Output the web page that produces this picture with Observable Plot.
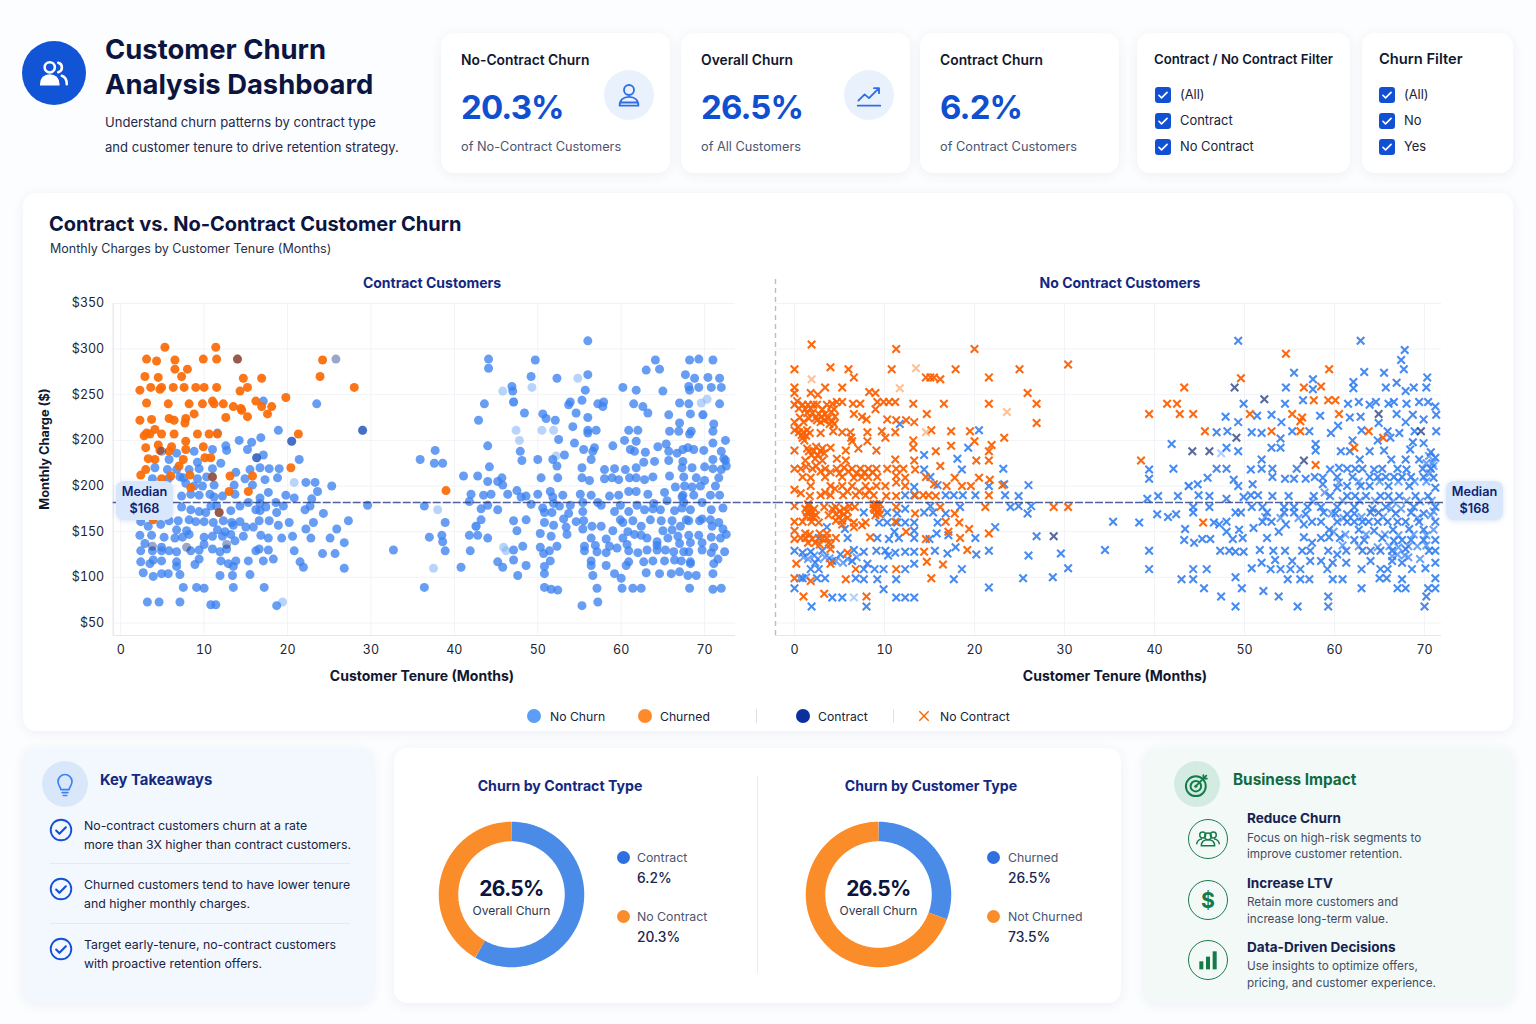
<!DOCTYPE html>
<html><head><meta charset="utf-8">
<script src="https://cdn.jsdelivr.net/npm/d3@7"></script>
<script src="https://cdn.jsdelivr.net/npm/@observablehq/plot@0.6"></script>
<style>
html,body{margin:0;padding:0;background:#fcfdfe;}
body{width:1536px;height:1024px;position:relative;overflow:hidden;font-family:Inter,"Noto Sans",sans-serif;color:#0b1540;}
.abs{position:absolute;}
.t{position:absolute;white-space:nowrap;transform:translateY(-50%);line-height:1;}
.tc{position:absolute;white-space:nowrap;transform:translate(-50%,-50%);line-height:1;}
.card{position:absolute;background:#fff;border-radius:13px;box-shadow:0 2px 12px rgba(30,60,120,.07);}
.plot{position:absolute;}
.plot svg{display:block;overflow:visible;}
.cb{position:absolute;width:16px;height:16px;background:#1150d2;border-radius:3px;}
.chip{position:absolute;width:57px;height:39px;background:#d8e7fc;border-radius:8px;color:#10226e;font-size:12.7px;font-weight:600;text-align:center;line-height:17px;padding-top:2px;box-sizing:border-box;box-shadow:0 1px 5px rgba(60,110,200,.2);}
</style></head><body>
<div id="root"></div>
<script>
// ---- scatter values [tenure months, monthly charge on the chart's linear axis] ----
const contractChurned=[[5.3,352],[11.4,352],[3.1,339],[4.3,337],[6.5,338],[9.9,339],[11.5,339],[14,339],[24.2,338],[6.5,328],[8,328],[2.9,320],[4.5,319],[7.3,320],[14.7,318],[16.9,318],[23.9,320],[2.3,305],[3.6,308],[4.7,306],[4.9,308],[6.3,308],[7.6,308],[9,308],[10,308],[11.5,308],[14.3,304],[15.2,308],[28,308],[3.1,291],[5.7,290],[8.2,290],[9.8,290],[11,293],[11.2,290],[12.3,290],[13.5,287],[14.4,285],[14.5,283],[16.2,293],[16.9,287],[18.1,287],[19.8,297],[17.6,279],[15.2,276],[12.6,275],[8.8,279],[2.3,272],[3.7,273],[5.8,274],[6.4,272],[7.8,274],[7.7,269],[3.1,258],[4.1,262],[3.5,257],[2.8,255],[4.9,257],[6.4,257],[9.2,257],[10.6,257],[11.6,257],[21.3,257],[3,242],[4.5,245],[6.1,243],[7.8,249],[7.8,240],[9.9,243],[5.8,238],[4.7,239],[3.3,230],[4.1,229],[7.5,229],[10.1,231],[10.8,231],[3,218],[2.4,212],[4.9,208],[6,211],[7,222],[8.3,212],[13.1,211],[15.8,211],[20.4,220],[11,210],[8.4,198],[13,194],[15.3,194],[3.9,163],[11.8,171],[39,195]];
const contractNoChurn=[[17.1,293],[23.5,290],[29,261],[18.9,261],[16.8,253],[14.2,250],[15.7,248],[11.6,258],[12.6,244],[11,240],[12.7,239],[15.2,240],[20.5,249],[17.1,234],[16.3,231],[21.4,229],[6.7,236],[8.8,238],[5.8,229],[9.2,226],[12,225],[4.1,220],[5.6,218],[6.7,218],[8.2,218],[9.4,219],[11,219],[13.8,215],[15.5,218],[16.7,220],[17.8,219],[19,219],[3.8,208],[5.7,208],[7.1,210],[7.5,209],[9.2,208],[10.3,210],[7.8,203],[14.9,208],[17.3,207],[18.8,209],[22.2,204],[23.3,204],[25.3,200],[8.8,200],[9.8,200],[11.2,201],[13.6,201],[15.8,201],[7.3,189],[8.4,191],[9.4,190],[10.7,191],[11.2,188],[12.2,189],[13.7,191],[16.7,187],[17.7,193],[19.8,190],[20.8,187],[22.9,186],[23.6,194],[14.3,178],[15.3,182],[16.7,181],[18.6,182],[17.4,177],[19.5,178],[22.7,178],[29.6,179],[7.3,177],[8.4,174],[9.4,172],[10.2,171],[10.8,178],[11.5,178],[13.2,173],[16.2,174],[16.7,173],[18.7,171],[22.1,174],[24.3,170],[2.4,161],[3.3,156],[4.8,158],[5.8,162],[6.9,162],[8.2,163],[9,161],[10,161],[11.1,160],[12.3,162],[13.3,160],[14.3,161],[16.6,162],[17.8,162],[18.9,157],[20.2,160],[23.1,160],[27.3,162],[6.7,152],[7.9,151],[11.6,152],[12.5,150],[13.5,157],[15,155],[15.9,155],[25.9,153],[22.2,153],[2.3,146],[3.7,146],[5.2,144],[6.5,143],[7.4,144],[8.2,147],[10,144],[11,145],[12.2,145],[13.2,147],[13.7,140],[14.7,145],[16.8,146],[17.7,143],[19.3,143],[20.6,145],[22.8,143],[25.1,143],[2.9,137],[26.8,138],[4.9,133],[2.4,129],[3.8,129],[4.9,129],[5.8,129],[6.7,128],[8.4,129],[9.4,130],[10,136],[11,131],[11.9,128],[12.7,131],[16.2,129],[16.6,131],[17.7,130],[20.8,129],[24.2,126],[25.7,126],[32.7,130],[2.4,117],[3.5,115],[3.9,119],[4.9,118],[6.7,117],[6.7,112],[8.9,114],[9.4,120],[12,118],[12.9,115],[13.5,112],[13.8,118],[15.3,118],[17.1,118],[18.3,120],[21.5,117],[21.9,111],[26.8,110],[2.7,105],[3.9,101],[4.9,104],[5.7,104],[7.1,103],[11.9,102],[13.4,102],[15.5,103],[7.5,89],[9.1,89],[10,88],[13.5,89],[17.2,89],[3.2,73],[4.6,73],[7.1,73],[10.8,70],[11.4,70],[18.7,69],
[56,359],[44.1,339],[44.1,329],[49.7,338],[64.1,338],[63,327],[64.6,328],[68.2,338],[69.3,339],[71,338],[49.2,320],[52.3,318],[56,322],[67.7,322],[68.8,318],[70.4,319],[71.8,318],[46.9,309],[47,304],[55.7,305],[60.2,308],[61.8,305],[65,304],[68.1,309],[68.2,305],[69.3,308],[70.8,308],[72,308],[43.6,290],[47.1,292],[53.7,289],[53.9,292],[55.3,294],[57.2,290],[57.9,292],[57.8,287],[61.5,290],[62.6,287],[67,291],[68.1,290],[71.8,290],[42.9,272],[48.4,280],[50.6,279],[51,274],[52.1,272],[54.6,280],[56,275],[63.2,280],[65.7,278],[68.3,279],[69.8,278],[54.2,265],[56,261],[56,258],[57,261],[60.9,261],[62,261],[65.8,260],[67,269],[66.9,260],[68.2,257],[68.4,260],[71.1,268],[71,260],[52.5,251],[54.4,247],[60.4,250],[61.8,249],[72.5,250],[71,247],[44,244],[59,244],[65.4,246],[64.4,243],[61.1,240],[61.6,238],[55.5,240],[56.8,242],[56.6,238],[62.9,237],[47.9,238],[65.7,238],[66.7,236],[67.4,240],[68,242],[68.7,240],[69.9,239],[72,238],[53.2,234],[51.8,229],[50,229],[48.1,228],[56.4,229],[65.7,228],[62.7,226],[64,227],[67.4,227],[71,229],[72.3,230],[72.5,228],[35.9,229],[37.7,239],[37.6,225],[38.6,225],[44.2,221],[52.3,222],[55.3,220],[58,218],[59.2,219],[60.5,218],[61.8,220],[67.3,220],[68.5,220],[70,221],[71,219],[72,218],[72.6,222],[41.1,211],[42.8,211],[45.7,209],[45.2,205],[44,205],[45.8,201],[50.4,209],[52.4,209],[55.3,209],[56.2,206],[58,208],[58.9,209],[59.7,207],[61,209],[61.8,209],[62.8,207],[63.8,210],[65.8,211],[67.5,210],[69,209],[71.7,209],[70,206],[69.5,200],[68.5,199],[67.6,200],[66.5,199],[71.3,200],[42,191],[43.5,190],[44.4,191],[46.4,191],[47.5,195],[48,188],[48.6,189],[50,191],[51.5,194],[51.8,188],[53,190],[55.1,191],[56.4,190],[58.6,189],[59.7,190],[60.9,194],[61.8,194],[63.2,191],[65.2,193],[67.4,190],[68.7,190],[67.3,188],[70.7,190],[71.8,190],[41.8,183],[44,179],[49.2,180],[36.4,178],[43.2,175],[45.2,174],[50.6,176],[51.9,181],[52.6,178],[53.9,179],[55.4,182],[57.2,182],[57.6,179],[59.9,179],[61.9,179],[63.9,181],[65.5,184],[67.5,182],[69.7,182],[72.2,176],[70.8,174],[62.8,174],[63.8,175],[64.7,174],[59.2,172],[60.9,172],[66.4,173],[67.3,176],[68.3,174],[50.8,171],[51.7,171],[55.4,172],[53.7,170],[43.2,163],[47.1,162],[48.6,163],[53.1,164],[54.6,161],[55.5,162],[38.9,160],[50.8,160],[59.9,163],[60.2,160],[61.4,162],[63.5,163],[64.8,162],[66.1,162],[67.8,163],[68.1,162],[69.4,162],[69.7,164],[70.7,163],[71.7,160],[42.6,156],[51.9,157],[53.4,155],[55.4,153],[56.5,156],[57.6,156],[62.4,156],[65,151],[66.1,152],[67.1,156],[70.9,156],[72.2,153],[47.5,151],[59,151],[60.8,150],[37,144],[38.5,146],[41.8,146],[42.8,146],[44,143],[50.3,148],[51.6,145],[53.5,147],[56.4,143],[58.2,142],[60.2,143],[61.6,147],[62.4,146],[63.1,143],[64.3,139],[65.6,143],[66.8,145],[68.1,146],[69.3,146],[70.8,144],[71.9,143],[72.6,147],[38.6,139],[47.1,130],[48.2,134],[50.3,133],[52.3,134],[55.6,134],[56.9,135],[58.6,134],[60.7,136],[64.3,135],[67,137],[68.3,138],[69.7,138],[71.1,133],[38.9,129],[41.9,129],[51.4,129],[50.7,126],[55.6,129],[57.1,128],[58.2,127],[59.5,132],[60.9,129],[62,127],[63.1,130],[64.3,130],[65.3,130],[66.3,128],[67.5,128],[68.1,128],[69.7,130],[70.8,127],[72.4,128],[45.2,117],[47.1,119],[48.6,113],[51.5,118],[56.4,118],[56.4,113],[58.2,113],[60.9,117],[60.6,113],[62.7,117],[63.8,118],[65.2,118],[66.4,119],[67.2,118],[68.3,117],[68.3,115],[71.1,115],[71.6,120],[40.8,111],[45.8,111],[50.8,112],[47.6,102],[50.8,104],[56.6,102],[59.2,104],[60,99],[63,105],[64.6,104],[66,104],[67,106],[68,102],[69,102],[71,104],[36.4,89],[50.8,89],[51.6,87],[52.4,86],[57.1,88],[60.1,88],[61.4,88],[62.4,88],[68.2,88],[71,87],[72,88],[57.2,73],[55.3,69]];
const contractNoChurnFaint=[[19.4,73],[20.8,204],[45.8,304],[49.3,308],[54.8,318],[45.9,133],[46.2,129],[38,174],[37.5,110],[50.5,261],[51.9,261],[70.3,295],[69.6,291],[52.2,233],[47.4,261],[47.8,250],[42.6,156],[47.1,292],[69.8,278]];
const contractOverlap=[[25.8,339],[14,339],[16.3,231],[12.7,136],[7.9,133],[3.8,134],[4.9,238],[11,210],[11.8,171],[20.5,249],[29,261]];
const noContractChurned=[[1.9,355],[11.3,350],[20,350],[0,328],[4,330],[6,328],[10.8,328],[17.9,328],[25,328],[30.4,333],[6.6,319],[14.6,319],[15.1,319],[15.5,319],[16.2,317],[21.6,319],[0,308],[3.4,308],[5.3,308],[25.9,302],[0,302],[1.8,302],[2.6,300],[8.3,303],[9,302],[0,289],[0.3,293],[0.9,289],[1.5,289],[2.1,289],[2.5,289],[3.6,289],[4.2,290],[4.7,292],[5.3,292],[6.5,290],[7.3,290],[9.2,292],[9.9,292],[10.5,292],[11.2,292],[13.2,290],[16.6,290],[21.6,290],[26.9,290],[9,284],[1.4,280],[2,280],[2.7,279],[3.4,279],[4.1,281],[6.6,279],[7.5,276],[8,273],[14.7,279],[0,270],[1,270],[2.5,272],[3.3,272],[4.2,271],[4.4,268],[10.3,273],[11.3,272],[12.4,272],[13.3,270],[26.9,269],[0,261],[0.5,259],[1,259],[0.9,253],[1.4,261],[2.9,258],[4.3,260],[5.3,259],[6.2,259],[6.3,253],[6.4,249],[8.1,259],[9.7,260],[10.1,253],[11.2,259],[15.2,261],[17.4,260],[19.5,260],[23.3,253],[8.1,249],[13.2,250],[13.2,242],[20,249],[0,239],[1.6,238],[2.1,238],[2.9,238],[4,242],[5.7,239],[7.1,241],[9.1,239],[15.7,238],[17.4,244],[21.6,238],[21.9,245],[1.2,228],[2.3,230],[3.1,228],[4.7,230],[5.7,228],[11.2,229],[13.3,228],[20.2,228],[21.6,228],[16.2,222],[0,219],[0.7,219],[2,219],[3.4,219],[4.7,219],[5.5,220],[6.4,219],[7.3,219],[8.2,219],[9.1,219],[10.3,219],[11.3,219],[12.1,219],[13.4,218],[0.9,210],[1.8,209],[3.4,210],[5.3,210],[6.6,209],[7.5,210],[8.2,210],[9.2,210],[11.3,211],[12.3,209],[11.3,204],[14.6,210],[17.8,209],[20.5,209],[21.7,207],[1.8,200],[4,200],[5.3,200],[6.4,200],[7.9,200],[9.1,200],[10.1,200],[12.3,200],[15.5,202],[16.9,200],[18.6,200],[19.6,200],[23.1,201],[0,196],[0.7,192],[2.9,190],[4,190],[5.4,190],[6.8,190],[7.9,190],[8.8,190],[10.2,189],[11.3,189],[13.4,190],[14.3,190],[14.9,190],[15.7,189],[21.6,190],[0,178],[1.6,178],[1.4,171],[2,171],[3.3,177],[4.6,177],[5.5,175],[4.6,169],[5.5,169],[6.7,177],[8.8,180],[9.2,177],[9.2,171],[11.3,177],[13.4,170],[16.2,177],[17.8,170],[21.2,177],[28.8,177],[30.4,177],[2.1,166],[4.6,162],[5.3,162],[0,161],[0.9,161],[1.9,161],[2.7,160],[6.6,160],[7.9,160],[11.2,161],[16.8,161],[18.3,160],[6.6,155],[7.5,157],[0,151],[12.4,150],[17.1,150],[19.4,153],[21.6,148],[0,142],[0.7,143],[1.2,143],[2,142],[3.6,143],[4.6,143],[8.4,144],[14.6,142],[18.4,143],[4,131],[19.2,130],[5.9,127],[14.4,128],[0.2,115],[4,115],[6.8,109],[11.3,109],[14.7,117],[16.5,114],[0,99],[1.8,96],[5.7,98],[15.2,99],[1,79],[3.3,82],[8,79],
[54.6,345],[59.4,328],[49.6,318],[43.3,308],[56.6,308],[58.5,309],[41.4,290],[42.5,290],[57.7,294],[59.3,294],[60.1,294],[39.4,279],[42.8,279],[44.3,279],[50.6,279],[55.3,279],[60.5,279],[56.2,271],[56.4,275],[45.6,260],[53,260],[56.2,260],[63.8,260],[65.4,253],[62.2,242],[38.5,228],[57.9,223],[45.4,160]];
const noContractChurnedDense=[[0.5,285],[1.2,284],[1.8,285],[2.4,275],[3,276],[3.7,274],[4.5,276],[0.6,275],[1.6,274],[3.1,284],[4.4,284],[3.9,268],[2.9,270],[0.4,264],[0.8,256],[1.3,255],[1.7,258],[1.1,250],[1.9,234],[2.6,234],[3.3,236],[1.4,241],[2.4,243],[3.1,241],[1.2,175],[1.7,173],[2.2,175],[1.3,167],[1.8,166],[2.4,168],[1.5,180],[5,172],[5.9,172],[4.9,166],[5.3,158],[5.9,165],[4.2,175],[3.8,168],[6.1,178],[8.9,174],[9.4,174],[9,168],[9.5,169],[8.8,176],[9.1,180],[9.5,180],[1.5,138],[2.3,138],[2.8,136],[3.1,142],[3.8,138],[4,136],[1.2,148],[1.7,147],[2.8,148],[3.6,148],[1.3,221],[2.4,222],[2.9,216],[4,215],[5,214],[6,216],[6.9,214],[7.8,215],[8.7,215],[1.7,189],[3.4,193],[4.5,197],[5.9,194],[7.2,194],[8.3,195]];
const noContractNoChurn=[[11.7,268],[20.5,261],[19.3,242],[14.4,234],[18.1,230],[14.4,218],[18.6,218],[23.2,219],[15.1,210],[15.9,201],[26,201],[21.6,200],[23.3,202],[13.3,199],[12.3,190],[13.3,190],[16.8,190],[17.7,190],[18.7,190],[20.1,190],[23.4,190],[24.9,189],[12.3,175],[11.4,170],[10.3,171],[7.7,171],[14.4,171],[15.1,178],[15.4,171],[16.8,170],[18.4,177],[24,177],[24.9,178],[26.3,178],[25.9,170],[9.4,160],[10.3,160],[11.4,160],[12.3,160],[13.3,160],[15.9,160],[3.6,155],[5.6,153],[13.3,151],[11.1,150],[22.3,155],[9.2,143],[10.5,142],[11.6,143],[13.3,143],[15,142],[15.8,148],[17.1,146],[20.1,143],[26.9,145],[5.9,143],[2.7,143],[0,129],[0.9,127],[1.8,128],[3.1,129],[5.1,125],[6.6,130],[7.7,128],[9.1,129],[10.1,129],[11.2,127],[10.4,124],[12.3,128],[13.3,128],[15.6,129],[17,126],[17.9,133],[20.2,125],[21.6,129],[26,124],[29.6,126],[1.8,109],[2.7,109],[2.3,116],[4.2,118],[6.4,118],[8.1,115],[7.7,109],[8.9,109],[9.9,109],[12.3,109],[13.3,115],[18.6,109],[30.4,110],[0.9,99],[2.5,99],[3.4,99],[6.8,99],[7.7,98],[9.2,98],[11.3,98],[17.7,98],[25.4,99],[28.7,100],[0,88],[9.9,87],[21.6,89],[4.2,78],[5.3,78],[11.3,78],[12.3,78],[13.3,78],[1.9,68],[8,68],
[49.3,359],[62.9,359],[67.8,349],[67.4,338],[67.7,328],[55.5,324],[57.6,317],[63.3,325],[65.5,324],[66.9,313],[70.3,319],[62.1,314],[62.1,307],[65.7,308],[54.6,308],[57.6,306],[67.9,304],[68.8,308],[70.2,308],[49.9,290],[54.5,290],[56.5,294],[61.5,290],[62.7,292],[63.9,289],[64.6,292],[66,290],[66.6,292],[68,290],[69.4,292],[70.4,292],[71.2,287],[47.9,276],[51.4,277],[53,278],[58.4,277],[61.7,275],[62.9,276],[66.9,279],[68.7,278],[69.9,273],[71.3,278],[49.3,270],[54.1,270],[60.4,266],[64.9,269],[67.9,270],[46.9,259],[48.1,260],[50.8,259],[51.9,258],[55.3,260],[57.2,260],[59.6,258],[63,261],[65.9,260],[67.2,258],[68.9,260],[71.3,260],[66.2,253],[64.8,250],[54,252],[41.9,246],[62,250],[68.7,248],[69.9,247],[48,242],[49.3,238],[53,242],[54,242],[57.9,246],[57.9,239],[60.7,238],[61.7,238],[63.9,238],[65.5,239],[68.4,240],[70.7,237],[51.9,229],[62.8,229],[66.3,229],[67.9,229],[69.4,229],[71.2,231],[39.4,218],[42.1,219],[46.9,219],[48,219],[50.7,218],[51.9,219],[53.1,219],[55.8,219],[59.5,218],[60.5,220],[61.4,219],[62.3,219],[63.1,219],[64.4,218],[65.3,219],[67,219],[68,218],[69.8,219],[70.7,219],[39.4,208],[45.9,209],[48.8,207],[53.1,210],[54.5,208],[55.5,208],[56.8,208],[57.8,210],[58.7,209],[60.3,210],[62,210],[63.9,210],[64.8,210],[65.7,210],[66.6,210],[67.5,210],[68.5,210],[69.9,210],[71,209],[43.8,200],[44.8,202],[49.3,200],[50.9,202],[58.7,202],[60.3,198],[61.4,200],[62.9,200],[63.9,200],[66,200],[68.3,200],[71.2,198],[39.2,186],[40.4,189],[42.6,189],[44.9,190],[46.1,189],[48,186],[49.9,188],[50.7,190],[51.5,190],[53.1,189],[54.9,189],[57.7,189],[59.5,189],[61.4,189],[62.3,189],[63.5,189],[65.1,189],[66,189],[67.2,189],[69,189],[70.4,189],[44.3,177],[46.1,177],[50.8,177],[52,177],[54.4,177],[55.5,177],[57,177],[58.5,177],[60.3,177],[62.2,177],[64.2,175],[65.7,177],[68.8,177],[71.2,177],[40.3,169],[41.5,166],[42.4,169],[44.3,171],[49,171],[49.6,171],[52.5,171],[54.4,171],[55.5,171],[56.8,169],[58.8,171],[60.1,170],[61.4,169],[62.2,170],[64,171],[64.9,171],[66.8,170],[68.5,171],[69.9,170],[35.4,161],[38.3,160],[46.6,160],[47.2,158],[48,161],[52,161],[53,161],[54.6,158],[56.6,158],[57.5,161],[58.5,161],[60.3,161],[61.4,161],[62.2,161],[63.1,161],[63.8,161],[64.8,161],[65.9,161],[67,161],[67.9,161],[69.4,161],[71.2,161],[43.4,153],[48,150],[49.4,152],[51,154],[53.8,150],[59.4,152],[62.7,152],[64.4,151],[66.5,152],[68.3,153],[69.9,152],[43.3,141],[44.4,138],[45.3,142],[46.2,142],[48.7,142],[49.8,143],[52.5,143],[56.6,144],[57.5,138],[58.5,143],[59.4,144],[60.6,143],[62.2,141],[63.3,141],[65.3,143],[66.6,140],[67.5,141],[68.5,141],[69.9,141],[71.2,141],[34.5,130],[39.4,129],[47.3,129],[48.3,129],[49,128],[49.9,128],[51.7,130],[53.2,129],[54.5,129],[56.4,129],[57.3,129],[59.3,129],[61.3,129],[63.1,129],[64,129],[65.1,129],[66.4,129],[67.9,131],[70.5,129],[71.2,129],[60.3,125],[51.9,116],[53.4,119],[55.3,118],[57.3,118],[58.5,118],[59.8,116],[61.3,116],[64,118],[66.4,118],[67.5,116],[71.2,116],[39.4,109],[44.3,109],[45.8,109],[50.8,110],[52.9,109],[54,109],[55.1,109],[56.2,109],[59.2,109],[63,109],[65.1,109],[65.9,109],[68.6,109],[70.1,110],[43,98],[44.3,98],[49,100],[54.8,98],[56.2,98],[57.2,98],[59.8,98],[60.9,98],[65,99],[65.8,99],[67.5,98],[71.2,99],[45.5,88],[49.7,88],[52.1,85],[63,88],[67,88],[67.9,88],[70.4,88],[71.2,88],[47.4,79],[53.8,79],[59.3,79],[70.2,79],[49,68],[55.9,68],[59.3,68],[70,68]];
const noContractNoChurnDense=[[1,122],[1.5,120],[2.2,124],[2.6,120],[3.4,122],[3.9,121],[4.6,118],[5.4,116],[5.9,120],[6.9,122],[0.6,99],[1.3,100],[58.9,193],[60.9,184],[62.8,184],[64.5,184],[66.5,183],[68,184],[69.5,183],[70.8,184],[59.7,170],[61,165],[63,166],[65.4,166],[66.3,175],[67.4,175],[69.2,165],[70.7,168],[71,172],[59.9,150],[61.2,147],[63.5,147],[65.6,147],[67.1,146],[68.8,147],[70.2,146],[71,152],[60.9,135],[62.7,134],[64.8,133],[66.1,134],[67.1,133],[68.2,134],[69.2,134],[70.2,135],[57.6,183],[56,165],[54,165],[52.3,166],[60.5,204],[62.7,205],[65,205],[67.1,205],[68.9,205],[70.2,205],[70.6,214],[70.2,225],[70.9,225],[70.5,233],[71,222],[66.4,123],[67,125],[67.8,124],[68.2,122],[69.5,120]];
const noContractChurnedFaint=[[13.5,329],[11.7,307],[23.6,281],[1.9,317],[14.6,259]];
const noContractNoChurnFaint=[[47.4,236],[6.6,78],[43.8,200]];
const noContractOverlap=[[48.9,308],[52.2,295],[49.1,253],[56.6,228],[28.8,145],[64.9,279],[69.6,260],[44.2,238],[46.1,238]];
// ---- axes ----
const yTickValues=[50,100,150,200,250,300,350,400];
const yTickLabels=["$50","$100","$150","$200","$200","$250","$300","$350"];
const xTickValues=[0,10,20,30,40,50,60,70];
const medianAxisValue=182, medianLabel="$168";
// ---- donut values as drawn: share of the ring ----
const contractTypeNames=["Contract","No Contract"];
const contractTypeShares=[58.3,41.7];
const contractTypeLabels=["6.2%","20.3%"];
const customerTypeNames=["Churned","Not Churned"];
const customerTypeShares=[30.5,69.5];
const customerTypeLabels=["26.5%","73.5%"];
const overallChurn="26.5%";
// ---- KPI / text ----
const kpis=[["No-Contract Churn","20.3%","of No-Contract Customers"],["Overall Churn","26.5%","of All Customers"],["Contract Churn","6.2%","of Contract Customers"]];

const root=document.getElementById("root");
function el(html){const d=document.createElement("div");d.innerHTML=html.trim();const n=d.firstChild;root.appendChild(n);return n;}
function txt(x,y,s,size,weight,color,center,extra){return el(`<div class="${center?'tc':'t'}" style="left:${x}px;top:${center?y:y+0.7}px;font-size:${size}px;font-weight:${weight};color:${color};${extra||''}">${s}</div>`);}
function card(x,y,w,h,bg){return el(`<div class="card" style="left:${x}px;top:${y}px;width:${w}px;height:${h}px;background:${bg||'#fff'}"></div>`);}
function icon(x,y,size,inner){return el(`<svg class="abs" style="left:${x-size/2}px;top:${y-size/2}px" width="${size}" height="${size}" viewBox="0 0 24 24" fill="none">${inner}</svg>`);}
function disc(x,y,r,bg){return el(`<div class="abs" style="left:${x-r}px;top:${y-r}px;width:${2*r}px;height:${2*r}px;border-radius:50%;background:${bg}"></div>`);}

// header
disc(54,73,32,"#1155d6");
icon(54,73,34,`<circle cx="9" cy="8" r="3.6" stroke="#fff" stroke-width="1.8"/><path d="M3 20c0-4 2.5-6.3 6-6.3s6 2.3 6 6.3z" stroke="#fff" stroke-width="1.8" fill="#fff"/><path d="M15 4.8a3.4 3.4 0 0 1 0 6.6M17.5 14c2.2.7 3.5 2.8 3.5 6" stroke="#fff" stroke-width="1.8" stroke-linecap="round"/>`);
txt(105,49.5,"Customer Churn",27.4,700,"#0b1540");
txt(105,84.5,"Analysis Dashboard",27.4,700,"#0b1540");
txt(105,122.5,"Understand churn patterns by contract type",13.05,400,"#1f2a4a");
txt(105,147.5,"and customer tenure to drive retention strategy.",13.05,400,"#1f2a4a");

// KPI cards
const kpiX=[441,681,920], kpiW=[229,229,199];
kpis.forEach((k,i)=>{card(kpiX[i],33,kpiW[i],140);
 txt(kpiX[i]+20,60.5,k[0],13.85,600,"#10172e");
 txt(kpiX[i]+20,106.5,k[1],33,700,"#0f4fd0",false,"letter-spacing:-.9px;");
 txt(kpiX[i]+20,146,k[2],12.75,400,"#4a5570");});
disc(629,95,25,"#e9f1fd");disc(869,95,25,"#e9f1fd");
icon(629,95,30,`<circle cx="12" cy="8" r="4" stroke="#2f6fe6" stroke-width="1.5"/><path d="M4.5 20.5c0-4.5 3-7 7.5-7s7.5 2.5 7.5 7zM5 18h14" stroke="#2f6fe6" stroke-width="1.5" stroke-linejoin="round"/>`);
icon(869,95,30,`<path d="M3 20.5h18" stroke="#2f6fe6" stroke-width="1.5" stroke-linecap="round"/><path d="M3.5 16.5l5-5 3.5 3 8-8M16 6.5h4v4" stroke="#2f6fe6" stroke-width="1.5" stroke-linecap="round" stroke-linejoin="round"/>`);

// filters
function checks(x,labels){labels.forEach((s,i)=>{const y=[95,121,147][i];
 el(`<div class="cb" style="left:${x}px;top:${y-8}px"></div>`);
 icon(x+8,y,14,`<path d="M5 12.5l4.5 4.5L19 7.5" stroke="#fff" stroke-width="2.8" stroke-linecap="round" stroke-linejoin="round"/>`);
 txt(x+25,y-0.5,s,12.9,400,"#1a2238");});}
card(1137,33,213,140);txt(1154,59.5,"Contract / No Contract Filter",13.15,600,"#10172e");checks(1155,["(All)","Contract","No Contract"]);
card(1362,33,151,140);txt(1379,58.5,"Churn Filter",14.7,600,"#10172e");checks(1379,["(All)","No","Yes"]);

// main card
card(23,193,1490,538);
txt(49,223.5,"Contract vs. No-Contract Customer Churn",20,700,"#0b1540");
txt(50,248.5,"Monthly Charges by Customer Tenure (Months)",12.5,400,"#27304a");
txt(432,283,"Contract Customers",14,700,"#14287f",true);
txt(1120,283,"No Contract Customers",14,700,"#14287f",true);
el(`<div class="tc" style="left:45px;top:449px;font-size:12.8px;font-weight:700;color:#10172e;transform:translate(-50%,-50%) rotate(-90deg)">Monthly Charge ($)</div>`);
txt(422,676,"Customer Tenure (Months)",14,700,"#10172e",true);
txt(1115,676,"Customer Tenure (Months)",14,700,"#10172e",true);

const P=a=>a.map(([t,v])=>({t,v}));
const fmtY=d=>yTickLabels[yTickValues.indexOf(d)];
const grid="#f1f3f7", frame="#e3e6ec", yDom=[36.3,427.3];

function scatter(o){
 return Plot.plot({height:395,marginTop:8,marginBottom:30,marginRight:0,width:o.width,marginLeft:o.ml,
  style:{background:"transparent",fontFamily:"Inter",fontSize:"12.5px",color:"#1c2433"},
  x:{domain:o.xDom,range:[o.ml,o.width],axis:null},
  y:{domain:yDom,range:[395-30,8],axis:null},
  marks:[
   Plot.ruleY(yTickValues,{x1:o.xDom[0],x2:o.xEnd,stroke:grid,strokeWidth:1}),
   Plot.ruleX(xTickValues,{y1:yDom[0],y2:400,stroke:grid,strokeWidth:1}),
   ...o.extra,
   Plot.ruleY([yDom[0]],{x1:o.xDom[0],x2:o.xEnd,stroke:frame,strokeWidth:1.2}),
   Plot.axisX(xTickValues,{tickSize:0,tickPadding:10,label:null,tickFormat:d=>String(d)}),
   ...(o.yAxis?[Plot.axisY(yTickValues,{tickSize:0,tickPadding:9,label:null,tickFormat:fmtY})]:[]),
   ...o.marks,
   Plot.ruleY([medianAxisValue],{stroke:"#24397e",strokeWidth:1.5,strokeDasharray:"8 2",strokeOpacity:.8})
  ]});
}
const dot=(arr,fill,op)=>Plot.dot(P(arr),{x:"t",y:"v",r:4.5,fill,fillOpacity:op});
const cross=(arr,stroke,op)=>Plot.dot(P(arr),{x:"t",y:"v",r:3.5,symbol:"times",stroke,strokeWidth:2.1,strokeOpacity:op});

const left=scatter({width:752,ml:89.7,xDom:[-0.9,78.5],xEnd:73.7,yAxis:true,
 extra:[Plot.ruleX([-0.9],{y1:yDom[0],y2:400,stroke:frame,strokeWidth:1.2})],
 marks:[dot(contractNoChurnFaint,"#7fb0f8",.55),dot(contractNoChurn,"#3c82ef",.78),dot(contractChurned,"#fb6a08",.93),dot(contractOverlap,"#1e3a8a",.45)]});
const right=scatter({width:670,ml:0,xDom:[-2.11,72.33],xEnd:71.9,yAxis:false,
 extra:[Plot.ruleX([-2.11],{y1:yDom[0],y2:yDom[1],stroke:"#b7bdc9",strokeWidth:1.4,strokeDasharray:"5 4"})],
 marks:[cross(noContractNoChurnFaint,"#7fb0f8",.6),cross(noContractNoChurnDense,"#4b8df2",.8),cross(noContractNoChurn,"#2f7bef",.88),cross(noContractChurnedDense,"#fb6205",.93),cross(noContractChurned,"#fb6205",.95),cross(noContractChurnedFaint,"#fcb27a",.8),cross(noContractOverlap,"#1e3a7a",.75)]});
const lw=el(`<div class="plot" style="left:23px;top:270px"></div>`);lw.appendChild(left);
const rw=el(`<div class="plot" style="left:775px;top:270px"></div>`);rw.appendChild(right);
el(`<div class="chip" style="left:116px;top:481px">Median<br>${medianLabel}</div>`);
el(`<div class="chip" style="left:1446px;top:481px">Median<br>${medianLabel}</div>`);

// legend
disc(534,716,7,"#5c9ef7");txt(550,716,"No Churn",12.2,400,"#1a2238");
disc(645,716,7,"#ff8a2b");txt(660,716,"Churned",12.2,400,"#1a2238");
el(`<div class="abs" style="left:756px;top:709px;width:1px;height:14px;background:#dde1e8"></div>`);
disc(803,716,7,"#0b2f9f");txt(818,716,"Contract",12.2,400,"#1a2238");
el(`<div class="abs" style="left:893px;top:709px;width:1px;height:14px;background:#dde1e8"></div>`);
icon(924,716,14,`<path d="M4 4l16 16M20 4L4 20" stroke="#fb6a08" stroke-width="2.6"/>`);txt(940,716,"No Contract",12.2,400,"#1a2238");

// takeaways
card(23,748,350,255,"#f3f7fe");
disc(65,784,23,"#d9e7fb");
icon(65,785,28,`<path d="M8.5 16c0-2-2.5-3.5-2.5-7a6 6 0 0 1 12 0c0 3.5-2.5 5-2.5 7z" stroke="#3b82f0" stroke-width="1.4" stroke-linejoin="round"/><path d="M9.5 18.5h5M10.5 21h3" stroke="#3b82f0" stroke-width="1.4" stroke-linecap="round"/>`);
txt(100,779,"Key Takeaways",14.8,700,"#14287f");
const takeaways=[[830,["No-contract customers churn at a rate","more than 3X higher than contract customers."],[825,844]],[889,["Churned customers tend to have lower tenure","and higher monthly charges."],[884,903]],[949,["Target early-tenure, no-contract customers","with proactive retention offers."],[944,963]]];
takeaways.forEach(([cy,lines,ys])=>{
 icon(61,cy,26,`<circle cx="12" cy="12" r="9.5" stroke="#1450d8" stroke-width="1.7"/><path d="M7.5 12.5l3 3 6-6" stroke="#1450d8" stroke-width="1.9" stroke-linecap="round" stroke-linejoin="round"/>`);
 lines.forEach((s,i)=>txt(84,ys[i],s,12.3,400,"#1a2340"));});
[863,923].forEach(y=>el(`<div class="abs" style="left:50px;top:${y}px;width:300px;height:1px;background:#e3eaf5"></div>`));

// donut card
card(394,748,727,255);
el(`<div class="abs" style="left:757px;top:776px;width:1px;height:197px;background:#e8ebf0"></div>`);
const ringColors=["#4a8be8","#fb8c2a"];
function donut(cx,cy,shares){
 const total=d3.sum(shares);let start=0;const pts=[];
 shares.forEach((s,i)=>{const end=start+s/total*360;
  for(let a=start;a<=end+1e-6;a+=1.5){pts.push({slice:i,a});}
  pts.push({slice:i,a:end});start=end;});
 const R=63;
 const ch=Plot.plot({width:160,height:160,margin:0,axis:null,
  x:{domain:[-80,80],range:[0,160]},y:{domain:[-80,80],range:[160,0]},
  style:{background:"transparent"},
  color:{domain:[0,1],range:ringColors},
  marks:[Plot.line(pts,{x:d=>R*Math.sin(d.a*Math.PI/180),y:d=>R*Math.cos(d.a*Math.PI/180),z:"slice",stroke:"slice",strokeWidth:19.5,strokeLinecap:"butt",curve:"linear"})]});
 const w=el(`<div class="plot" style="left:${cx-80}px;top:${cy-80}px"></div>`);w.appendChild(ch);
 txt(cx+0.5,888,overallChurn,21,700,"#0b1540",true,"letter-spacing:-.7px;");
 txt(cx+0.5,911,"Overall Churn",12,400,"#2b3550",true);
}
function donutLegend(dx,tx,names,labels){
 const ys=[[857,878],[916,937]];const cols=["#2f6fe0","#fb8c2a"];
 names.forEach((n,i)=>{disc(dx,ys[i][0],6.5,cols[i]);txt(tx,ys[i][0],n,12.3,400,"#4a5570");txt(tx,ys[i][1],labels[i],13.8,500,"#1a2550");});
}
txt(560,786,"Churn by Contract Type",14.15,700,"#14287f",true);
donut(511,894,contractTypeShares);donutLegend(623,637,contractTypeNames,contractTypeLabels);
txt(931,786,"Churn by Customer Type",14.15,700,"#14287f",true);
donut(878,894,customerTypeShares);donutLegend(993,1008,customerTypeNames,customerTypeLabels);

// business impact
card(1144,748,369,255,"#f3f9f7");
disc(1197,784,23,"#d4ebe3");
icon(1197,785,28,`<circle cx="11" cy="13" r="8.5" stroke="#137a48" stroke-width="1.7"/><circle cx="11" cy="13" r="4.5" stroke="#137a48" stroke-width="1.7"/><circle cx="11" cy="13" r="1.3" fill="#137a48"/><path d="M11 13l9-9M17.5 3.5v3h3" stroke="#137a48" stroke-width="1.5" stroke-linecap="round"/>`);
txt(1233,779,"Business Impact",15.3,700,"#0f6b3f");
const impact=[[839,"Reduce Churn",["Focus on high-risk segments to","improve customer retention."],[818,838,854]],[900,"Increase LTV",["Retain more customers and","increase long-term value."],[883,902,919]],[960,"Data-Driven Decisions",["Use insights to optimize offers,","pricing, and customer experience."],[947,966,983]]];
const impactIcons=[
 `<circle cx="8" cy="9" r="2.2" stroke="#137a48" stroke-width="1.1"/><circle cx="16" cy="9" r="2.2" stroke="#137a48" stroke-width="1.1"/><circle cx="12" cy="10" r="2.5" stroke="#137a48" stroke-width="1.1"/><path d="M3.5 16c0-2.5 2-4 4-4M20.5 16c0-2.500-2-4-4-4M7 17c0-3 2-4.500 5-4.500s5 1.500 5 4.500z" stroke="#137a48" stroke-width="1.1"/>`,
 `<text x="12" y="18" text-anchor="middle" font-family="Inter" font-size="17" font-weight="700" fill="#137a48">$</text>`,
 `<rect x="5.5" y="13" width="3" height="6" fill="#137a48"/><rect x="10.5" y="9.5" width="3" height="9.5" fill="#137a48"/><rect x="15.5" y="5.5" width="3" height="13.5" fill="#137a48"/>`];
impact.forEach(([cy,h,lines,ys],i)=>{
 el(`<div class="abs" style="left:${1207.5-20}px;top:${cy-20}px;width:38px;height:38px;border:1.6px solid #1a7a4c;border-radius:50%"></div>`);
 icon(1208,cy,i==1?30:32,impactIcons[i]);
 txt(1247,ys[0],h,13.55,700,"#14234f");
 txt(1247,ys[1],lines[0],11.7,400,"#3f4d66");
 txt(1247,ys[2],lines[1],11.7,400,"#3f4d66");
});
</script>
</body></html>
